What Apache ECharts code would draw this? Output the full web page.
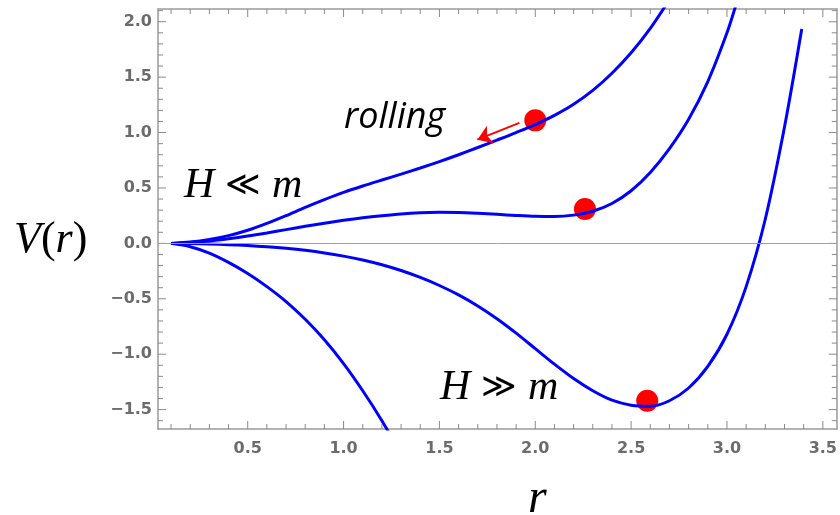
<!DOCTYPE html>
<html>
<head>
<meta charset="utf-8">
<script src="https://cdn.jsdelivr.net/npm/echarts@6/dist/echarts.min.js"></script>
<style>html,body{margin:0;padding:0;background:#fff;}#c{width:840px;height:515px;}</style>
</head>
<body>
<div id="c"></div>
<script>
// ---- data ----
const rA = [0.1,0.2,0.3,0.4,0.5,0.6,0.7,0.8,0.9,1.0,1.1,1.2,1.3,1.4,1.5,1.6,1.7,1.8,1.9,2.0,2.1,2.2,2.3,2.4,2.5,2.6,2.7];
const vA = [0,0.012,0.035,0.07,0.118,0.18,0.25,0.325,0.395,0.46,0.518,0.572,0.625,0.68,0.738,0.8,0.865,0.932,1.0,1.072,1.155,1.255,1.38,1.535,1.72,1.94,2.2];
const rB = [0.1,0.2,0.3,0.4,0.5,0.6,0.7,0.8,0.9,1.0,1.1,1.2,1.3,1.4,1.5,1.6,1.7,1.8,1.9,2.0,2.1,2.2,2.3,2.4,2.5,2.6,2.7,2.8,2.9,3.0,3.05];
const vB = [0,0.008,0.022,0.042,0.066,0.094,0.124,0.154,0.182,0.208,0.231,0.25,0.266,0.276,0.28,0.279,0.272,0.262,0.252,0.244,0.242,0.255,0.29,0.36,0.475,0.64,0.855,1.12,1.46,1.9,2.17];
const rC = [0.1,0.2,0.3,0.4,0.5,0.6,0.7,0.8,0.9,1.0,1.1,1.2,1.3];
const vC = [0,-0.03,-0.088,-0.172,-0.272,-0.39,-0.525,-0.685,-0.87,-1.085,-1.33,-1.6,-1.9];
const rD = [0.1,0.2,0.3,0.4,0.5,0.6,0.7,0.8,0.9,1.0,1.1,1.2,1.3,1.4,1.5,1.6,1.7,1.8,1.9,2.0,2.1,2.2,2.3,2.4,2.5,2.6,2.7,2.8,2.9,3.0,3.1,3.2,3.3,3.39];
const vD = [0,-0.002,-0.006,-0.012,-0.02,-0.031,-0.045,-0.063,-0.086,-0.115,-0.15,-0.193,-0.245,-0.307,-0.38,-0.465,-0.565,-0.68,-0.81,-0.95,-1.09,-1.22,-1.33,-1.415,-1.46,-1.47,-1.42,-1.305,-1.11,-0.82,-0.39,0.22,1.05,1.935];
const ballR = [2.0, 2.259, 2.584];
const ballV = [1.11, 0.31, -1.42];
const arrowFrom = [1.917, 1.087];
const arrowTo = [1.698, 0.936];
const xRange = [0.032, 3.573];
const yRange = [-1.675, 2.115];

const zip = (a, b) => a.map((x, i) => [x, b[i]]);
const gray = '#9a9a9a';
const fmt = v => (Math.abs(v * 2 - Math.round(v * 2)) > 1e-6) ? '' : v.toFixed(1).replace('-', '\u2212');
const labelStyle = {fontFamily: 'DejaVu Sans', fontWeight: 'bold', fontSize: 16, color: '#6b6b6b'};

// frame tick positions (every 0.1, major every 0.5) inside the axis ranges
const frameTicks = [];
for (let k = Math.ceil(xRange[0] * 10 - 1e-9); k <= Math.floor(xRange[1] * 10 + 1e-9); k++) frameTicks.push([0, k / 10, k % 5 === 0 ? 1 : 0]);
for (let k = Math.ceil(yRange[0] * 10 - 1e-9); k <= Math.floor(yRange[1] * 10 + 1e-9); k++) frameTicks.push([1, k / 10, k % 5 === 0 ? 1 : 0]);

function axis(kind, pos, showLabel) {
  return {
    type: 'value', position: pos,
    min: kind === 'x' ? xRange[0] : yRange[0],
    max: kind === 'x' ? xRange[1] : yRange[1],
    splitNumber: kind === 'x' ? 7 : 8,
    axisLine: {show: true, onZero: false, lineStyle: {color: gray, width: 1.5}},
    axisTick: {show: false},
    axisLabel: Object.assign({show: showLabel, formatter: fmt, margin: kind === 'x' ? 12 : 6}, labelStyle),
    splitLine: {show: false}
  };
}

const mctx = document.createElement('canvas').getContext('2d');
function tw(font, s) { mctx.font = font; return mctx.measureText(s).width; }
function centred(cx, cy, segs, lh) {
  let w = 0; segs.forEach(s => { w += tw(s[1], s[0]); });
  return {left: Math.round(cx - w / 2), top: Math.round(cy - lh / 2)};
}
const fI42 = 'italic 42px "Liberation Serif"';
const fO34 = '34px "DejaVu Serif"';
const fP44 = '44px "Liberation Serif"';
const fI44 = 'italic 44px "Liberation Serif"';
const richHM = {
  i: {fontFamily: 'Liberation Serif', fontStyle: 'italic', fontSize: 42, color: '#000', lineHeight: 50},
  o: {fontFamily: 'DejaVu Serif', fontSize: 34, color: '#000', lineHeight: 50}
};
function annot(text, pos, textStyle) {
  return {text: text, left: pos.left, top: pos.top, padding: 0, itemGap: 0, textStyle: textStyle, z: 10};
}
const pRoll = centred(395, 118, [['rolling', 'italic 36px "Open Sans"']], 48);
const pHl = centred(243, 186, [['H', fI42], [' \u226A ', fO34], ['m', fI42]], 50);
const pHg = centred(499, 388, [['H', fI42], [' \u226B ', fO34], ['m', fI42]], 50);
const pV = centred(51, 240, [['V', fI44], ['(', fP44], ['r', fI44], [')', fP44]], 52);
const pR = centred(537, 499, [['r', 'italic 48px "Liberation Serif"']], 52);

const chart = echarts.init(document.getElementById('c'), null, {renderer: 'canvas'});
function curve(r, v) {
  return {type: 'line', data: zip(r, v), showSymbol: false, symbol: 'none', smooth: 0.3,
          lineStyle: {color: '#0000ff', width: 3}, itemStyle: {color: '#0000ff'}, silent: true};
}

chart.setOption({
  animation: false,
  backgroundColor: '#fff',
  title: [
    annot('rolling', pRoll, {fontFamily: 'Open Sans', fontStyle: 'italic', fontWeight: 'normal', fontSize: 36, color: '#000', lineHeight: 48}),
    annot('{i|H}{o| \u226A }{i|m}', pHl, {rich: richHM, lineHeight: 50, fontWeight: 'normal'}),
    annot('{i|H}{o| \u226B }{i|m}', pHg, {rich: richHM, lineHeight: 50, fontWeight: 'normal'}),
    annot('{i|V}{p|(}{i|r}{p|)}', pV, {lineHeight: 52, fontWeight: 'normal', rich: {
      i: {fontFamily: 'Liberation Serif', fontStyle: 'italic', fontSize: 44, color: '#000', lineHeight: 52},
      p: {fontFamily: 'Liberation Serif', fontSize: 44, color: '#000', lineHeight: 52}}}),
    annot('r', pR, {fontFamily: 'Liberation Serif', fontStyle: 'italic', fontWeight: 'normal', fontSize: 48, color: '#000', lineHeight: 52})
  ],
  grid: {left: 158, right: 2, top: 9, bottom: 86},
  xAxis: [axis('x', 'bottom', true), axis('x', 'top', false)],
  yAxis: [axis('y', 'left', true), axis('y', 'right', false)],
  series: [
    {type: 'custom', data: frameTicks, silent: true, z: 1, clip: false,
     renderItem: function (params, api) {
       const kind = api.value(0), v = api.value(1), len = api.value(2) ? 8 : 5;
       const st = {stroke: '#8a8a8a', lineWidth: 1};
       if (kind === 0) {
         const b = api.coord([v, yRange[0]]), t = api.coord([v, yRange[1]]);
         return {type: 'group', children: [
           {type: 'line', shape: {x1: b[0], y1: b[1], x2: b[0], y2: b[1] - len}, style: st},
           {type: 'line', shape: {x1: t[0], y1: t[1], x2: t[0], y2: t[1] + len}, style: st}]};
       }
       const l = api.coord([xRange[0], v]), r = api.coord([xRange[1], v]);
       return {type: 'group', children: [
         {type: 'line', shape: {x1: l[0], y1: l[1], x2: l[0] + len, y2: l[1]}, style: st},
         {type: 'line', shape: {x1: r[0], y1: r[1], x2: r[0] - len, y2: r[1]}, style: st}]};
     }},
    {type: 'line', data: [], silent: true,
     markLine: {silent: true, symbol: 'none', label: {show: false},
                lineStyle: {color: '#a0a0a0', width: 1, type: 'solid'},
                data: [{yAxis: 0}]}},
    curve(rA, vA), curve(rB, vB), curve(rC, vC), curve(rD, vD),
    {type: 'scatter', data: zip(ballR, ballV), symbol: 'circle', symbolSize: 22,
     itemStyle: {color: '#ff0000', opacity: 1}, silent: true,
     markLine: {silent: true, symbol: ['none', 'arrow'], symbolSize: 14,
                label: {show: false}, lineStyle: {color: '#ff0000', width: 2, type: 'solid'},
                data: [[{coord: arrowFrom}, {coord: arrowTo}]]}}
  ]
});
</script>
</body>
</html>
